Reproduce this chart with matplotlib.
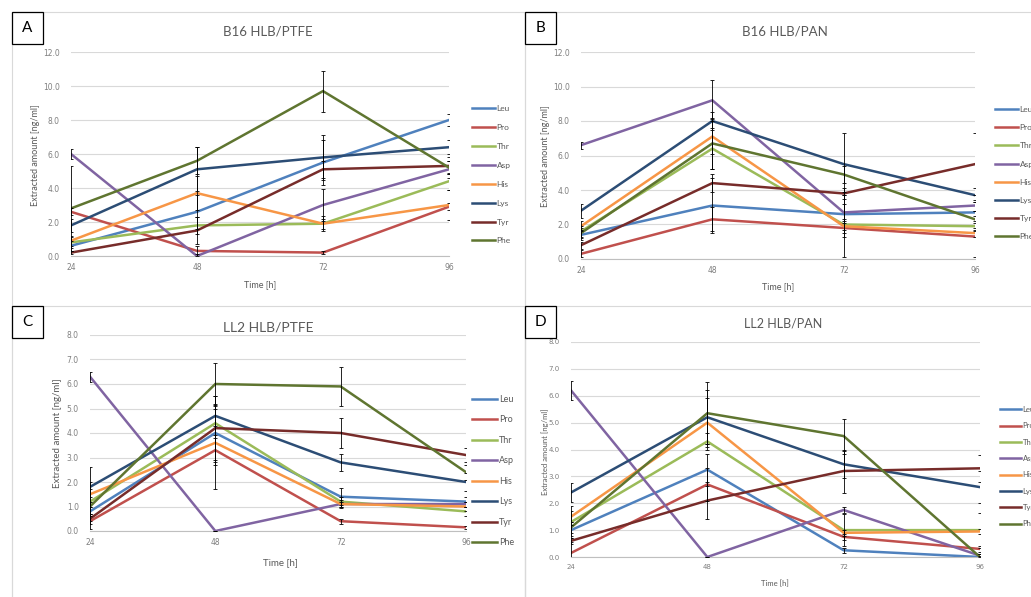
import numpy as np
import matplotlib
matplotlib.use("Agg")
import matplotlib.pyplot as plt
from matplotlib.patches import Rectangle

plt.rcParams['font.family'] = ['Lato', 'DejaVu Sans']

W, H = 1031, 597

times = [24, 48, 72, 96]
amino = ['Leu', 'Pro', 'Thr', 'Asp', 'His', 'Lys', 'Tyr', 'Phe']
colors = ['#4F81BD', '#C0504D', '#9BBB59', '#8064A2',
          '#F79646', '#2C4D75', '#772C2A', '#5F7530']

# rows follow the order of `amino`
a_vals = [[0.6, 2.6, 5.5, 8.0], [2.6, 0.3, 0.2, 2.9], [0.8, 1.8, 1.9, 4.4],
          [6.0, 0.0, 3.0, 5.1], [0.9, 3.7, 1.9, 3.0], [1.8, 5.1, 5.8, 6.4],
          [0.2, 1.5, 5.1, 5.3], [2.8, 5.6, 9.7, 5.2]]
a_err = [[0.3, 1.0, 1.3, 0.35], [0.2, 0.3, 0.1, 0.2], [0.3, 0.5, 0.3, 0.5],
         [0.3, 0.1, 0.95, 0.5], [0.3, 1.0, 0.45, 0.9], [0.4, 1.3, 1.3, 0.4],
         [0.1, 0.8, 0.5, 0.5], [2.5, 0.8, 1.2, 0.4]]

b_vals = [[1.4, 3.1, 2.6, 2.7], [0.3, 2.3, 1.8, 1.3], [1.6, 6.4, 2.0, 1.9],
          [6.6, 9.2, 2.7, 3.1], [1.9, 7.1, 1.9, 1.5], [2.8, 8.0, 5.5, 3.7],
          [0.8, 4.4, 3.8, 5.5], [1.5, 6.7, 4.9, 2.3]]
b_err = [[0.3, 1.6, 1.3, 0.6], [0.2, 0.7, 0.3, 1.2], [0.3, 1.2, 0.3, 0.3],
         [0.2, 1.2, 0.5, 0.3], [0.3, 1.0, 1.8, 0.2], [0.4, 0.5, 1.8, 0.4],
         [0.2, 0.5, 0.3, 1.8], [0.3, 1.5, 0.5, 0.5]]

c_vals = [[0.8, 4.0, 1.4, 1.2], [0.4, 3.3, 0.4, 0.15], [1.2, 4.4, 1.2, 0.8],
          [6.3, 0.0, 1.1, 1.1], [1.5, 3.6, 1.1, 1.0], [1.8, 4.7, 2.8, 2.0],
          [0.5, 4.2, 4.0, 3.1], [1.0, 6.0, 5.9, 2.4]]
c_err = [[0.4, 1.2, 0.35, 0.2], [0.3, 0.6, 0.1, 0.05], [0.5, 0.6, 0.2, 0.2],
         [0.2, 0.0, 0.1, 0.1], [0.5, 1.9, 0.15, 0.2], [0.8, 0.4, 0.35, 0.35],
         [0.2, 1.3, 0.6, 0.3], [0.4, 0.85, 0.8, 0.3]]

d_vals = [[1.0, 3.25, 0.25, 0.0], [0.15, 2.7, 0.75, 0.3], [1.3, 4.3, 1.0, 1.0],
          [6.2, 0.0, 1.75, 0.05], [1.5, 5.0, 0.9, 0.95], [2.4, 5.2, 3.45, 2.6],
          [0.6, 2.1, 3.2, 3.3], [1.1, 5.35, 4.5, 0.0]]
d_err = [[0.2, 0.6, 0.1, 0.05], [0.4, 0.6, 0.1, 0.1], [0.6, 0.3, 0.6, 0.65],
         [0.35, 0.0, 0.1, 0.05], [0.2, 0.9, 0.1, 0.1], [0.35, 1.0, 0.5, 0.6],
         [0.1, 0.7, 0.8, 0.5], [0.2, 1.15, 0.65, 0.1]]

GRAY = '#595959'
TICK = '#7F7F7F'


def fx(x):
    return x / W


def fy(y):
    return 1 - y / H


fig = plt.figure(figsize=(W / 100, H / 100), dpi=100)
fig.patch.set_facecolor('white')


def panel(letter, box, title, vals, errs, plot, ymax, ystep, pos, fs, lspace):
    # outer panel frame (light grey, like the pasted Excel chart areas)
    bx, by = box
    fig.add_artist(Rectangle((fx(bx), fy(H + 50)), fx(513), fy(by) - fy(H + 50),
                             transform=fig.transFigure, fill=False,
                             edgecolor='#D9D9D9', lw=0.8))
    fig.add_artist(Rectangle((fx(bx), fy(by + 32)), fx(31), fy(by) - fy(by + 32),
                             transform=fig.transFigure, fill=False,
                             edgecolor='black', lw=0.9, facecolor='white'))
    fig.text(fx(bx + 15.5), fy(by + 16), letter, ha='center', va='center',
             fontsize=11, color='black')

    left, top, right, bottom = plot
    ax = fig.add_axes([fx(left), fy(bottom), fx(right - left), fy(top) - fy(bottom)])
    for i, name in enumerate(amino):
        ax.plot(times, vals[i], color=colors[i], lw=1.8, label=name, zorder=2,
                solid_joinstyle='miter')
    for i in range(len(amino)):
        ax.errorbar(times, vals[i], yerr=errs[i], fmt='none', ecolor='black',
                    elinewidth=0.6, capsize=1.5, capthick=0.6, zorder=3)

    ax.set_xlim(24, 96)
    ax.set_ylim(0, ymax)
    ax.set_xticks(times)
    ax.set_yticks(np.arange(0, ymax + 0.01, ystep))
    ax.set_yticklabels(['{:.1f}'.format(v) for v in np.arange(0, ymax + 0.01, ystep)])
    ax.tick_params(length=0, labelsize=fs['tick'], labelcolor=TICK)
    ax.tick_params(axis='y', pad=8)
    ax.tick_params(axis='x', pad=5)
    for lab in ax.get_xticklabels() + ax.get_yticklabels():
        lab.set_fontfamily('DejaVu Sans')
    ax.yaxis.grid(True, color='#D9D9D9', lw=0.8)
    ax.set_axisbelow(True)
    for s in ['top', 'right', 'left']:
        ax.spines[s].set_visible(False)
    ax.spines['bottom'].set_color('#BFBFBF')
    ax.spines['bottom'].set_linewidth(0.8)

    (tx, ty), (xx, xy), (yx, yy), (lx, ly) = pos
    fig.text(fx(tx), fy(ty), title, ha='center', va='center',
             fontsize=fs['title'], color=GRAY)
    fig.text(fx(xx), fy(xy), 'Time [h]', ha='center', va='center',
             fontsize=fs['label'], color=GRAY)
    fig.text(fx(yx), fy(yy), 'Extracted amount [ng/ml]', ha='center', va='center',
             rotation=90, fontsize=fs['label'], color=GRAY)

    ax.legend(loc='upper left', bbox_to_anchor=(fx(lx), fy(ly - 3)),
              bbox_transform=fig.transFigure, frameon=False, fontsize=fs['legend'],
              handlelength=2.8, handletextpad=0.15, labelspacing=lspace,
              borderpad=0, borderaxespad=0, labelcolor=GRAY)
    return ax


panel('A', (12, 12), 'B16 HLB/PTFE', a_vals, a_err, (71, 52, 449, 256), 12, 2,
      [(268, 31), (260, 285), (35, 155), (472, 108)],
      {'tick': 5.5, 'title': 9.5, 'label': 6.5, 'legend': 6}, 1.43)
panel('B', (525, 12), 'B16 HLB/PAN', b_vals, b_err, (581, 52, 975, 259), 12, 2,
      [(785, 31), (778, 287), (546, 156), (995, 109)],
      {'tick': 5.5, 'title': 9.5, 'label': 6.5, 'legend': 6}, 1.34)
panel('C', (12, 306), 'LL2 HLB/PTFE', c_vals, c_err, (90, 335, 466, 531), 8, 1,
      [(268, 328), (280, 563), (57, 433), (472, 398)],
      {'tick': 5.5, 'title': 10, 'label': 7, 'legend': 6.5}, 1.27)
panel('D', (525, 306), 'LL2 HLB/PAN', d_vals, d_err, (571, 342, 980, 557), 8, 1,
      [(783, 324), (775, 584), (545, 452), (1000, 409)],
      {'tick': 5, 'title': 9, 'label': 5.5, 'legend': 5.5}, 1.22)

fig.savefig('out.png', dpi=100, facecolor='white')
